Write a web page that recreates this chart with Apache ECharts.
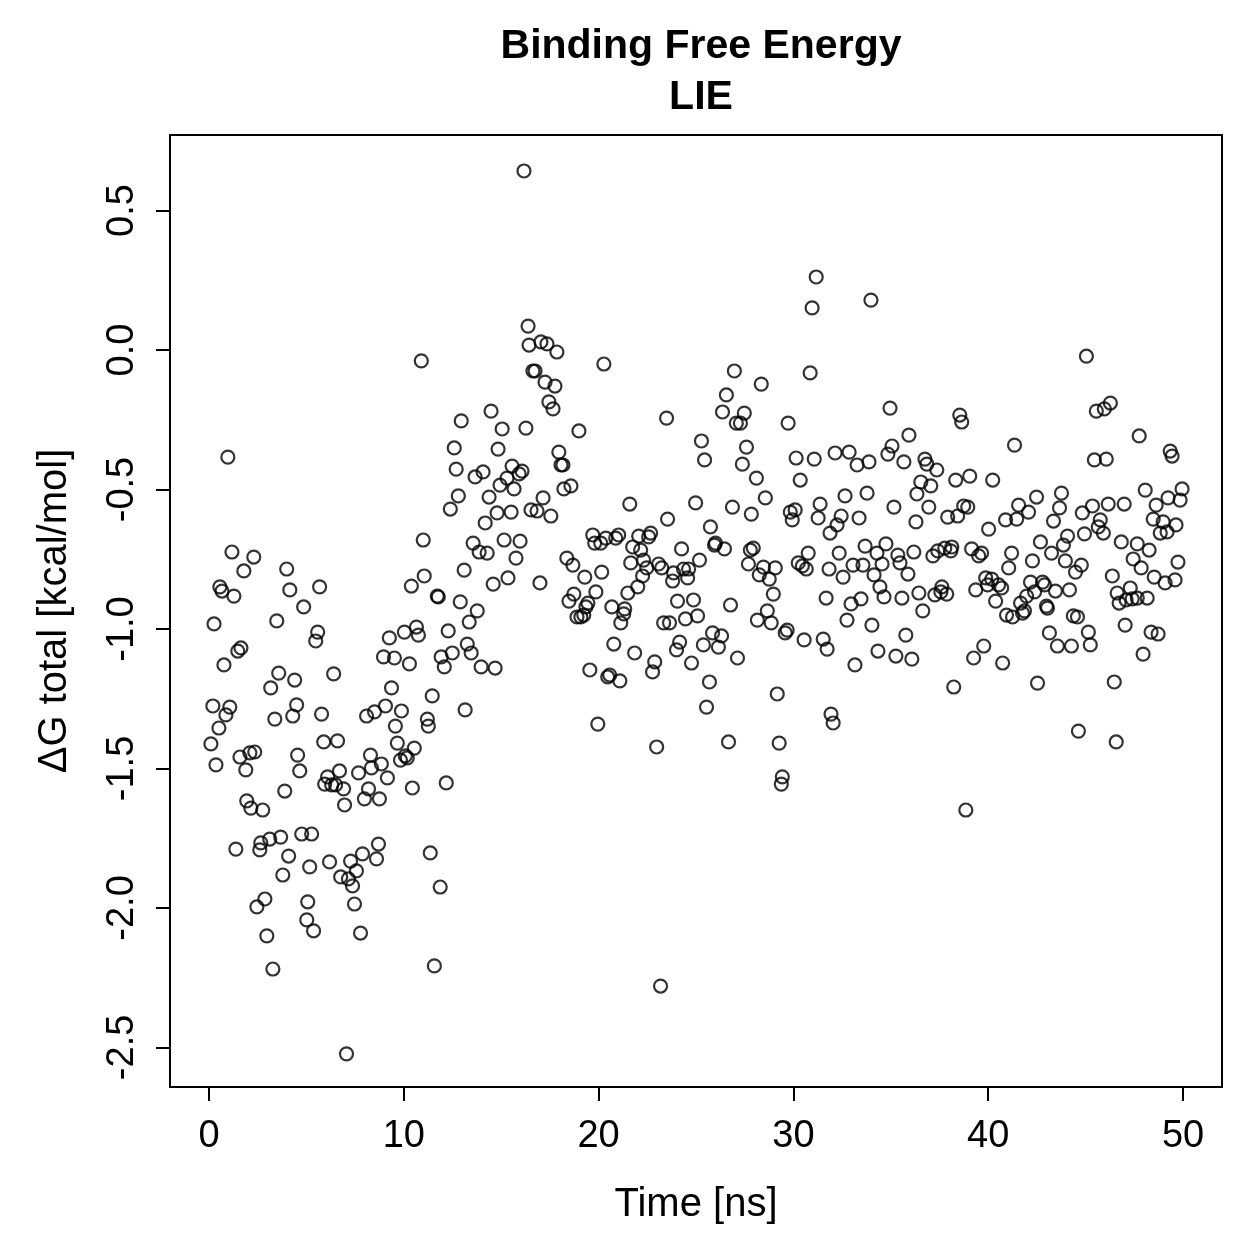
<!DOCTYPE html>
<html>
<head>
<meta charset="utf-8">
<script src="https://cdn.jsdelivr.net/npm/echarts@6/dist/echarts.min.js"></script>
<style>
  html, body { margin: 0; padding: 0; background: #fff; }
  #chart { width: 1259px; height: 1259px; }
</style>
</head>
<body>
<div id="chart"></div>
<script>
// tick positions (R-style pretty ticks)
const xTicks = [0, 10, 20, 30, 40, 50]
const yTicks = [-2.5, -2.0, -1.5, -1.0, -0.5, 0.0, 0.5]

// [time (ns), dG total (kcal/mol)], grouped by time window
const window0to10 = [
  [0.97,-0.384],[1.18,-0.724],[2.30,-0.742],[1.79,-0.792],[3.99,-0.785],[0.56,-0.849],[0.67,-0.864],[1.28,-0.882],
  [4.15,-0.860],[5.68,-0.849],[4.86,-0.921],[0.26,-0.982],[3.48,-0.971],[5.58,-1.011],[5.48,-1.043],[9.26,-1.032],
  [1.64,-1.068],[1.48,-1.079],[0.77,-1.129],[3.58,-1.158],[4.40,-1.183],[3.17,-1.211],[6.40,-1.161],[8.96,-1.100],
  [9.52,-1.104],[9.37,-1.211],
  [0.20,-1.276],[1.07,-1.280],[0.87,-1.308],[0.51,-1.355],[0.10,-1.412],[0.36,-1.487],[3.38,-1.323],[4.30,-1.312],
  [4.50,-1.272],[5.78,-1.305],[8.09,-1.312],[8.50,-1.297],[9.06,-1.276],[9.88,-1.294],[9.57,-1.348],[9.67,-1.409],
  [10.54,-1.427],[5.89,-1.405],[6.60,-1.401],[1.59,-1.459],[2.10,-1.444],[2.35,-1.441],[1.89,-1.505],[4.55,-1.452],
  [4.66,-1.509],[8.29,-1.452],[8.85,-1.484],[8.34,-1.498],[7.68,-1.516],[9.16,-1.534],[10.08,-1.455],[9.83,-1.470],
  [10.18,-1.462],[6.09,-1.530],[5.94,-1.556],[6.30,-1.559],[6.50,-1.559],[6.70,-1.509],[6.91,-1.573],[6.96,-1.631],
  [8.19,-1.573],[7.98,-1.609],[8.75,-1.609],[10.44,-1.570],[3.89,-1.581],[1.94,-1.616],[2.15,-1.642],[2.76,-1.649],
  [1.38,-1.789],[2.61,-1.792],[2.66,-1.767],[3.12,-1.753],[3.68,-1.746],[4.76,-1.735],[5.27,-1.735],[4.09,-1.814],
  [3.79,-1.882],[5.17,-1.853],[6.19,-1.835],[7.27,-1.832],[7.88,-1.806],[8.70,-1.771],[8.60,-1.824],[7.57,-1.867],
  [6.76,-1.889],[7.16,-1.896],[7.37,-1.921],[2.87,-1.968],[2.46,-1.996],[5.07,-1.978],[5.02,-2.043],[5.37,-2.082],
  [7.47,-1.986],[7.78,-2.090],[2.97,-2.100],[3.28,-2.219],[7.06,-2.523]
]

const window10to20 = [
  [16.38,0.086],[16.43,0.018],[17.04,0.029],[17.35,0.022],[17.86,-0.007],[10.90,-0.039],[16.63,-0.075],[16.74,-0.075],
  [17.25,-0.115],[17.76,-0.129],[17.45,-0.186],[17.66,-0.211],[14.48,-0.219],[12.95,-0.254],[15.05,-0.283],[16.27,-0.280],
  [18.99,-0.290],[12.59,-0.351],[14.84,-0.355],[17.96,-0.366],[18.07,-0.412],[18.17,-0.412],[12.69,-0.427],[13.66,-0.455],
  [14.07,-0.437],[15.56,-0.416],[15.30,-0.459],[14.94,-0.484],[15.92,-0.444],[16.07,-0.434],[15.66,-0.498],[18.22,-0.498],
  [18.58,-0.487],[12.80,-0.523],[14.38,-0.527],[17.15,-0.530],[12.39,-0.570],[16.53,-0.573],[16.84,-0.577],[17.55,-0.595],
  [14.79,-0.584],[15.51,-0.581],[14.18,-0.620],[11.00,-0.681],[13.56,-0.692],[13.87,-0.724],[14.28,-0.728],[15.15,-0.681],
  [15.97,-0.685],[15.76,-0.746],[18.37,-0.746],[18.68,-0.771],[13.10,-0.789],[11.05,-0.810],[10.39,-0.846],[14.59,-0.839],
  [15.35,-0.817],[16.99,-0.835],[18.73,-0.875],[18.48,-0.900],[11.72,-0.882],[11.77,-0.885],[12.90,-0.903],[13.77,-0.935],
  [13.36,-0.975],[18.89,-0.957],[10.03,-1.011],[10.65,-0.993],[10.75,-1.022],[12.28,-1.007],[13.26,-1.054],[13.46,-1.086],
  [12.49,-1.086],[11.92,-1.100],[16.17,0.642],[19.09,-0.957],[19.24,-0.950],[19.35,-0.921],[19.45,-0.907],[12.08,-1.136],
  [13.97,-1.136],[14.69,-1.140],[11.46,-1.240],[13.15,-1.290],[11.21,-1.323],[11.26,-1.348],[12.18,-1.552],[11.36,-1.803],
  [11.87,-1.925],[11.57,-2.208],[10.29,-1.125]
]

const window20to31 = [
  [31.17,0.262],[30.96,0.151],[20.27,-0.050],[26.97,-0.075],[28.35,-0.122],[30.86,-0.082],[26.56,-0.161],[26.36,-0.222],
  [27.48,-0.226],[27.07,-0.262],[27.28,-0.262],[29.73,-0.262],[23.49,-0.244],[25.28,-0.326],[25.44,-0.394],[27.59,-0.348],
  [27.38,-0.409],[28.10,-0.459],[30.14,-0.387],[31.07,-0.391],[30.35,-0.466],[28.56,-0.530],[21.60,-0.552],[24.98,-0.548],
  [26.87,-0.563],[27.84,-0.588],[23.54,-0.606],[25.74,-0.634],[29.84,-0.581],[30.09,-0.573],[29.94,-0.609],[31.27,-0.602],
  [31.37,-0.552],
  [19.70,-0.663],[19.80,-0.692],[20.11,-0.692],[20.37,-0.674],[20.88,-0.674],[21.03,-0.663],[22.06,-0.667],[22.57,-0.670],
  [22.67,-0.656],[21.75,-0.706],[22.16,-0.717],[24.26,-0.713],[26.00,-0.692],[25.95,-0.699],[26.46,-0.713],[27.79,-0.717],
  [27.94,-0.710],[30.76,-0.728],
  [20.16,-0.796],[21.65,-0.763],[22.31,-0.753],[22.47,-0.781],[22.26,-0.810],[23.08,-0.767],[23.24,-0.781],[23.85,-0.799],
  [23.80,-0.828],[24.36,-0.785],[24.62,-0.785],[24.57,-0.817],[25.18,-0.753],[27.69,-0.767],[28.46,-0.778],[28.25,-0.806],
  [28.76,-0.821],[29.07,-0.781],[30.25,-0.763],[30.46,-0.774],[30.66,-0.785],[19.29,-0.814],
  [19.86,-0.867],[20.68,-0.921],[21.50,-0.871],[22.01,-0.849],[21.34,-0.928],[21.29,-0.946],[21.14,-0.978],[24.05,-0.900],
  [24.87,-0.896],[24.46,-0.964],[25.08,-0.953],[23.34,-0.978],[23.64,-0.978],[26.77,-0.914],[28.97,-0.875],[28.66,-0.935],
  [28.15,-0.968],[28.86,-0.978],
  [25.85,-1.014],[26.31,-1.025],[26.15,-1.065],[25.38,-1.057],[24.16,-1.047],[24.00,-1.075],[24.77,-1.122],[27.13,-1.104],
  [29.58,-1.014],[29.68,-1.004],[30.55,-1.039],
  [20.78,-1.054],[21.85,-1.086],[22.88,-1.118],[22.77,-1.154],[19.55,-1.147],[20.47,-1.172],[20.57,-1.165],[21.09,-1.186],
  [25.69,-1.190],[25.54,-1.280],[29.17,-1.233],[19.96,-1.341],[22.98,-1.423],[26.67,-1.405],[29.27,-1.409],[29.43,-1.530],
  [29.38,-1.556],[23.18,-2.280]
]

const window31to40 = [
  [33.98,0.179],[34.96,-0.208],[38.54,-0.233],[38.64,-0.258],[35.93,-0.305],[32.14,-0.369],[32.86,-0.366],[33.27,-0.412],
  [33.88,-0.401],[34.85,-0.373],[35.06,-0.344],[35.67,-0.401],[36.75,-0.391],[36.85,-0.409],[37.36,-0.430],[36.54,-0.473],
  [37.05,-0.487],[36.34,-0.516],[38.33,-0.466],[39.05,-0.452],[40.23,-0.466],[32.65,-0.523],[33.78,-0.513],[35.16,-0.563],
  [36.95,-0.563],[38.74,-0.559],[38.95,-0.563],[37.92,-0.599],[38.43,-0.595],[36.29,-0.616],[40.02,-0.642],[31.88,-0.656],
  [32.45,-0.595],[32.24,-0.627],[33.37,-0.602],[32.35,-0.728],[33.68,-0.703],[34.75,-0.695],[34.29,-0.728],[35.36,-0.735],
  [36.18,-0.724],[37.16,-0.738],[37.41,-0.720],[37.77,-0.710],[38.13,-0.706],[38.08,-0.720],[39.15,-0.713],[39.66,-0.728],
  [39.51,-0.738],
  [35.47,-0.763],[31.83,-0.785],[33.06,-0.771],[33.57,-0.771],[34.55,-0.767],[32.55,-0.814],[34.14,-0.806],[35.88,-0.803],
  [34.44,-0.849],[34.65,-0.885],[31.68,-0.889],[32.96,-0.910],[33.47,-0.892],[35.57,-0.889],[36.44,-0.871],[37.26,-0.878],
  [37.62,-0.849],[37.57,-0.867],[37.87,-0.875],[36.64,-0.935],[39.36,-0.860],[39.87,-0.817],[40.18,-0.821],[39.97,-0.842],
  [40.53,-0.842],[40.38,-0.900],[32.75,-0.968],[34.03,-0.986],[35.77,-1.022],[31.53,-1.036],[31.73,-1.072],[33.16,-1.129],
  [34.34,-1.079],[35.26,-1.097],[36.08,-1.108],[39.77,-1.061],[39.25,-1.104],[38.23,-1.208],[31.93,-1.305],[32.04,-1.337],
  [38.85,-1.649]
]

const window40to50 = [
  [45.04,-0.022],[45.55,-0.219],[45.96,-0.211],[46.27,-0.190],[47.75,-0.308],[49.34,-0.362],[49.44,-0.380],[41.35,-0.341],
  [45.45,-0.394],[46.06,-0.391],[48.06,-0.502],[49.95,-0.498],[43.76,-0.513],[42.48,-0.527],[49.23,-0.530],[49.85,-0.538],
  [41.56,-0.556],[42.07,-0.581],[40.89,-0.609],[41.46,-0.606],[43.66,-0.566],[43.35,-0.613],[45.35,-0.559],[44.83,-0.584],
  [46.16,-0.552],[46.98,-0.552],[48.62,-0.556],[48.47,-0.606],[45.75,-0.609],[45.65,-0.634],[45.91,-0.656],[44.94,-0.659],
  [44.07,-0.667],[43.86,-0.699],[42.68,-0.688],[43.25,-0.728],[41.20,-0.728],[41.05,-0.781],[42.27,-0.756],[43.96,-0.756],
  [44.78,-0.771],[44.48,-0.796],[46.83,-0.688],[47.65,-0.695],[48.26,-0.717],[47.44,-0.749],[47.85,-0.781],[48.98,-0.616],
  [48.83,-0.656],[49.18,-0.652],[49.64,-0.627],[49.74,-0.760],[48.52,-0.814],[49.08,-0.835],[49.59,-0.824],[46.37,-0.810],
  [42.17,-0.832],[42.79,-0.832],[42.89,-0.842],[42.38,-0.867],[41.97,-0.882],[41.66,-0.907],[43.45,-0.864],[44.17,-0.860],
  [46.62,-0.871],[47.29,-0.853],[47.08,-0.896],[47.39,-0.892],[47.65,-0.889],[48.16,-0.889],[46.72,-0.907],[42.99,-0.918],
  [40.69,-0.853],
  [40.94,-0.950],[41.25,-0.957],[41.76,-0.943],[41.86,-0.935],[43.04,-0.925],[44.37,-0.953],[44.58,-0.957],[43.14,-1.014],
  [43.55,-1.061],[44.27,-1.061],[45.14,-1.011],[45.24,-1.057],[40.74,-1.122],[42.53,-1.194],[46.47,-1.190],[44.63,-1.366],
  [46.57,-1.405],[47.03,-0.986],[48.36,-1.011],[48.72,-1.018],[47.95,-1.090]
]

const points = [].concat(window0to10, window10to20, window20to31, window31to40, window40to50)

const FONT = 'Liberation Sans, Arial, Helvetica, sans-serif'

const chart = echarts.init(document.getElementById('chart'), null, { renderer: 'canvas' })

const option = {
  animation: false,
  backgroundColor: '#fff',
  title: {
    text: 'Binding Free Energy\nLIE',
    left: 696,
    top: 16,
    textAlign: 'center',
    textStyle: {
      fontFamily: FONT,
      fontWeight: 'bold',
      fontSize: 41,
      lineHeight: 51,
      color: '#000'
    }
  },
  grid: {
    left: 170,
    right: 37,
    top: 135,
    bottom: 172,
    show: true,
    borderColor: '#000',
    borderWidth: 2,
    backgroundColor: 'transparent'
  },
  xAxis: {
    type: 'value',
    min: -2,
    max: 52,
    name: 'Time [ns]',
    nameLocation: 'middle',
    nameGap: 98,
    nameTextStyle: { fontFamily: FONT, fontSize: 40, color: '#000' },
    axisLine: { show: false, onZero: false },
    axisTick: {
      show: true,
      length: 14,
      customValues: xTicks,
      lineStyle: { color: '#000', width: 2 }
    },
    axisLabel: {
      customValues: xTicks,
      margin: 31,
      fontFamily: FONT,
      fontSize: 38,
      color: '#000'
    },
    splitLine: { show: false }
  },
  yAxis: {
    type: 'value',
    min: -2.642,
    max: 0.771,
    name: 'ΔG total [kcal/mol]',
    nameLocation: 'middle',
    nameGap: 95,
    nameTextStyle: { fontFamily: FONT, fontSize: 40, color: '#000' },
    axisLine: { show: false, onZero: false },
    axisTick: {
      show: true,
      length: 14,
      customValues: yTicks,
      lineStyle: { color: '#000', width: 2 }
    },
    axisLabel: {
      customValues: yTicks,
      rotate: 90,
      margin: 28,
      fontFamily: FONT,
      fontSize: 38,
      color: '#000',
      formatter: (v) => v.toFixed(1)
    },
    splitLine: { show: false }
  },
  series: [
    {
      type: 'scatter',
      data: points,
      symbol: 'circle',
      symbolSize: 13,
      itemStyle: {
        color: 'rgba(0,0,0,0)',
        borderColor: '#000',
        borderWidth: 2.2
      },
      emphasis: { disabled: true }
    }
  ]
}

chart.setOption(option)
</script>
</body>
</html>
